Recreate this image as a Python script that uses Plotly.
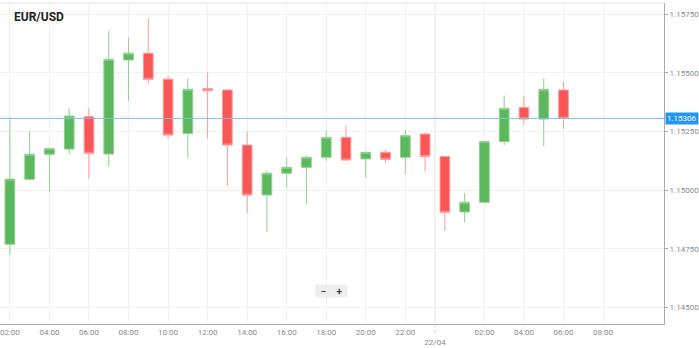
import plotly.graph_objects as go

# ---- data ----
times = [
    "2021-04-21 02:00", "2021-04-21 03:00", "2021-04-21 04:00", "2021-04-21 05:00",
    "2021-04-21 06:00", "2021-04-21 07:00", "2021-04-21 08:00", "2021-04-21 09:00",
    "2021-04-21 10:00", "2021-04-21 11:00", "2021-04-21 12:00", "2021-04-21 13:00",
    "2021-04-21 14:00", "2021-04-21 15:00", "2021-04-21 16:00", "2021-04-21 17:00",
    "2021-04-21 18:00", "2021-04-21 19:00", "2021-04-21 20:00", "2021-04-21 21:00",
    "2021-04-21 22:00", "2021-04-21 23:00", "2021-04-22 00:00", "2021-04-22 01:00",
    "2021-04-22 02:00", "2021-04-22 03:00", "2021-04-22 04:00", "2021-04-22 05:00",
    "2021-04-22 06:00",
]
opens = [1.14769, 1.15046, 1.15153, 1.15175, 1.15313, 1.15154, 1.15555, 1.15584,
         1.15473, 1.15242, 1.15433, 1.15427, 1.15192, 1.14979, 1.15072, 1.15097,
         1.15140, 1.15225, 1.15133, 1.15161, 1.15140, 1.15239, 1.15143, 1.14907,
         1.14948, 1.15207, 1.15352, 1.15303, 1.15427]
closes = [1.15047, 1.15153, 1.15177, 1.15316, 1.15157, 1.15558, 1.15584, 1.15473,
          1.15235, 1.15430, 1.15424, 1.15192, 1.14979, 1.15072, 1.15097, 1.15140,
          1.15225, 1.15128, 1.15161, 1.15131, 1.15232, 1.15143, 1.14905, 1.14948,
          1.15207, 1.15349, 1.15303, 1.15430, 1.15306]
highs = [1.15312, 1.15252, 1.15180, 1.15349, 1.15349, 1.15680, 1.15650, 1.15733,
         1.15487, 1.15477, 1.15503, 1.15429, 1.15249, 1.15082, 1.15138, 1.15147,
         1.15256, 1.15274, 1.15165, 1.15171, 1.15256, 1.15245, 1.15145, 1.14988,
         1.15210, 1.15403, 1.15402, 1.15477, 1.15463]
lows = [1.14723, 1.15044, 1.14993, 1.15153, 1.15050, 1.15100, 1.15381, 1.15453,
        1.15219, 1.15136, 1.15219, 1.15019, 1.14901, 1.14820, 1.15008, 1.14939,
        1.15125, 1.15126, 1.15053, 1.15117, 1.15069, 1.15079, 1.14826, 1.14861,
        1.14945, 1.15192, 1.15278, 1.15188, 1.15261]

last_price = 1.15306
title = "EUR/USD"

x_tickvals = ["2021-04-21 02:00", "2021-04-21 04:00", "2021-04-21 06:00", "2021-04-21 08:00",
              "2021-04-21 10:00", "2021-04-21 12:00", "2021-04-21 14:00", "2021-04-21 16:00",
              "2021-04-21 18:00", "2021-04-21 20:00", "2021-04-21 22:00", "2021-04-21 23:30",
              "2021-04-22 02:00", "2021-04-22 04:00", "2021-04-22 06:00", "2021-04-22 08:00"]
x_ticktext = ["02:00", "04:00", "06:00", "08:00", "10:00", "12:00", "14:00", "16:00",
              "18:00", "20:00", "22:00", "<br>22/04", "02:00", "04:00", "06:00", "08:00"]
y_tickvals = [1.1450, 1.1475, 1.1500, 1.1525, 1.1550, 1.1575]
y_ticktext = ["1.14500", "1.14750", "1.15000", "1.15250", "1.15500", "1.15750"]

fig = go.Figure()
fig.add_trace(go.Candlestick(
    x=times, open=opens, high=highs, low=lows, close=closes,
    increasing=dict(fillcolor="#5cb85c", line=dict(color="#8fd08f", width=1)),
    decreasing=dict(fillcolor="#f95656", line=dict(color="#ff9a9a", width=1)),
    whiskerwidth=0, showlegend=False, hoverinfo="skip",
))

# day separator grid line (slightly darker)
fig.add_shape(type="line", xref="x", yref="paper", x0="2021-04-21 23:30", x1="2021-04-21 23:30",
              y0=0, y1=1, line=dict(color="#e4e4e4", width=1), layer="below")
fig.add_shape(type="line", xref="x", yref="paper", x0="2021-04-21 23:30", x1="2021-04-21 23:30",
              y0=0, y1=-0.03, line=dict(color="#cccccc", width=1, dash="dot"))
# top border
fig.add_shape(type="line", xref="paper", yref="paper", x0=0, x1=1, y0=1, y1=1,
              line=dict(color="#e6e6e6", width=1))
# last price line
fig.add_shape(type="line", xref="paper", yref="y", x0=0, x1=1, y0=last_price, y1=last_price,
              line=dict(color="#74c2f6", width=1))

fig.add_annotation(xref="paper", yref="y", x=1, y=last_price, xanchor="left", yanchor="middle",
                   xshift=1, text="%.5f" % last_price, showarrow=False,
                   bgcolor="#2196f3", borderpad=1,
                   font=dict(family="Roboto", size=8, color="white"))
fig.add_annotation(xref="paper", yref="paper", x=0.018, y=0.956, xanchor="left", yanchor="middle",
                   text="<b>%s</b>" % title, showarrow=False,
                   font=dict(family="Roboto", size=12, color="#222222"))
# zoom buttons
fig.add_annotation(xref="paper", yref="paper", x=0.4865, y=0.081, text="<b>−</b>", showarrow=False,
                   bgcolor="#eeeeee", width=15, height=12, borderpad=0,
                   font=dict(family="Roboto", size=10, color="#444444"))
fig.add_annotation(xref="paper", yref="paper", x=0.5116, y=0.081, text="<b>+</b>", showarrow=False,
                   bgcolor="#eeeeee", width=15, height=12, borderpad=0,
                   font=dict(family="Roboto", size=10, color="#444444"))

fig.update_layout(
    width=699, height=348,
    margin=dict(l=0, r=32, t=3, b=24),
    paper_bgcolor="white", plot_bgcolor="white",
    font=dict(family="Roboto", size=8, color="#888888"),
    xaxis=dict(
        type="date", range=["2021-04-21 01:30", "2021-04-22 11:05"],
        rangeslider=dict(visible=False),
        tickmode="array", tickvals=x_tickvals, ticktext=x_ticktext,
        ticklabeloverflow="allow",
        showgrid=True, gridcolor="#f1f1f1", gridwidth=1,
        showline=True, linecolor="#aaaaaa", linewidth=1,
        ticks="", zeroline=False, fixedrange=True,
        tickfont=dict(family="Roboto", size=8, color="#8a8a8a"),
    ),
    yaxis=dict(
        side="right", range=[1.144288, 1.157982],
        tickmode="array", tickvals=y_tickvals, ticktext=y_ticktext,
        showgrid=True, gridcolor="#f1f1f1", gridwidth=1,
        showline=True, linecolor="#aaaaaa", linewidth=1,
        ticks="outside", ticklen=3, tickcolor="#aaaaaa",
        zeroline=False, fixedrange=True,
        tickfont=dict(family="Roboto", size=8, color="#8a8a8a"),
    ),
)

fig.write_html("out.html", config={"displayModeBar": False})
